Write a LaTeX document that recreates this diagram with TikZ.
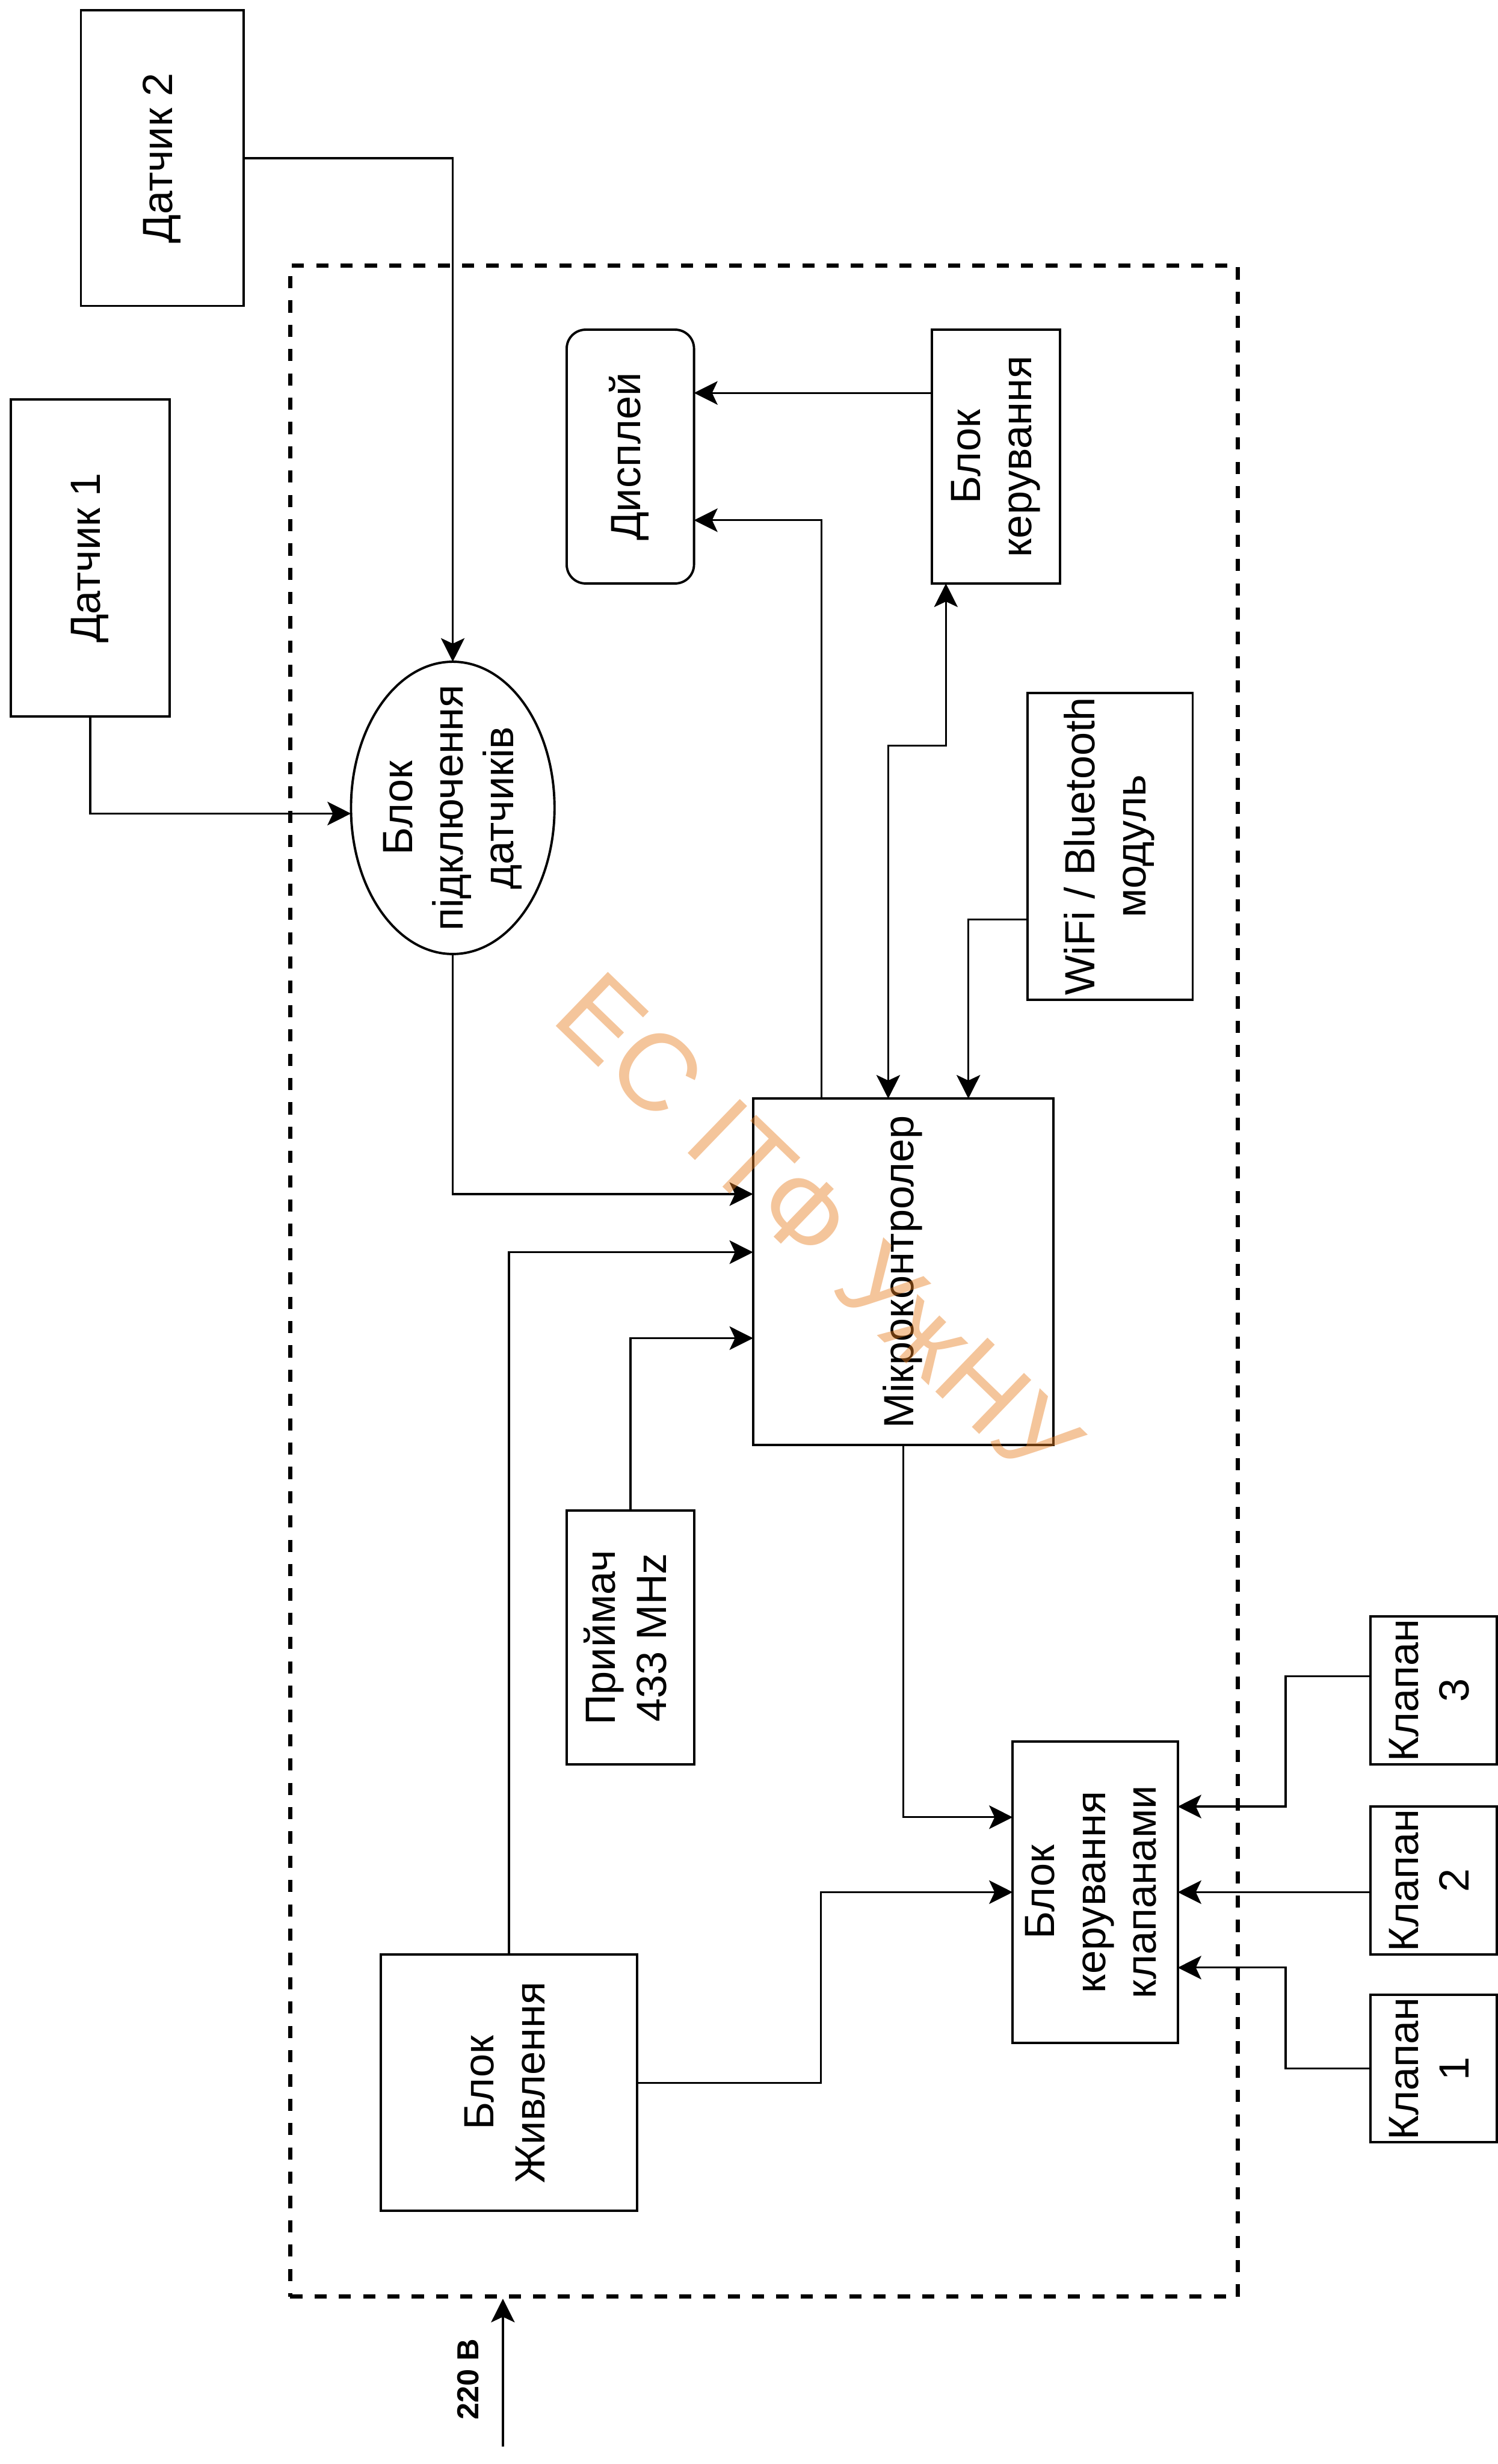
\documentclass[tikz,border=0pt]{standalone}
\usepackage{fontspec}
\setmainfont{Liberation Sans}
\usepackage{graphicx}
\usepackage{tikz}
\usetikzlibrary{positioning,shapes.geometric,arrows.meta,calc}

\definecolor{wmorange}{RGB}{230,126,34}
\newcommand{\vtext}[1]{\rotatebox{90}{\begin{tabular}{@{}c@{}}#1\end{tabular}}}

\begin{document}
\begin{tikzpicture}[x=0.2mm, y=-0.2mm]
\tikzset{
    blk/.style={rectangle, draw, line width=0.85pt, inner sep=0pt, outer sep=0pt, font=\fontsize{15.3}{18.4}\selectfont},
    rblk/.style={blk, rounded corners=2.4mm},
    ovalbox/.style={ellipse, draw, line width=0.85pt, inner sep=0pt, outer sep=0pt},
    txt/.style={inner sep=0pt, font=\fontsize{15.3}{18.4}\selectfont},
    dashbox/.style={rectangle, draw, line width=1.5pt, dash pattern=on 4.4pt off 4.4pt, inner sep=0pt},
    arrow/.style={-{Stealth[length=3mm, width=3mm, inset=0.7mm]}, line width=0.7pt},
    dblarrow/.style={{Stealth[length=3mm, width=3mm, inset=0.7mm]}-{Stealth[length=3mm, width=3mm, inset=0.7mm]}, line width=0.7pt},
    wmark/.style={text=wmorange, text opacity=0.45, font=\fontsize{39.5}{42}\selectfont, rotate=-44, inner sep=0pt}
}
\useasboundingbox (0,0) rectangle (953,1568);

% device border
\node[dashbox, minimum width=12.06cm, minimum height=25.85cm] (frm) at (486.2,815.25) {};

% sensors
\node[blk, minimum width=2.07cm, minimum height=3.76cm] (ds2) at (103.25,100.65) {\vtext{Датчик 2}};
\node[blk, minimum width=2.02cm, minimum height=4.03cm] (ds1) at (57.4,355.1) {\vtext{Датчик 1}};

% blocks inside
\node[rblk, minimum width=1.62cm, minimum height=3.23cm] (dsp) at (401.1,290.55) {\vtext{Дисплей}};
\node[blk, minimum width=1.63cm, minimum height=3.23cm] (bk) at (633.65,290.55) {\vtext{Блок\\керування}};
\node[ovalbox, minimum width=2.59cm, minimum height=3.72cm] (conn) at (288.1,514.1) {};
\node[txt] (connT) at (conn.center) {\vtext{Блок\\підключення\\датчиків}};
\node[blk, minimum width=2.10cm, minimum height=3.90cm] (wf) at (706.4,538.6) {\vtext{WiFi / Bluetooth\\модуль}};
\node[blk, minimum width=3.82cm, minimum height=4.41cm] (mc) at (574.7,809.35) {\vtext{Мікроконтролер}};
\node[blk, minimum width=1.62cm, minimum height=3.23cm] (rx) at (401.15,1042.15) {\vtext{Приймач\\433 MHz}};
\node[blk, minimum width=2.10cm, minimum height=3.84cm] (kv) at (696.9,1204.1) {\vtext{Блок\\керування\\клапанами}};
\node[blk, minimum width=3.26cm, minimum height=3.26cm] (pw) at (323.85,1325.35) {\vtext{Блок\\Живлення}};

% valves
\node[blk, minimum width=1.61cm, minimum height=1.88cm] (kl3) at (912.15,1075.7) {\vtext{Клапан\\3}};
\node[blk, minimum width=1.61cm, minimum height=1.88cm] (kl2) at (912.15,1196.6) {\vtext{Клапан\\2}};
\node[blk, minimum width=1.61cm, minimum height=1.88cm] (kl1) at (912.15,1316.35) {\vtext{Клапан\\1}};

% mains
\coordinate (mains) at (320,1557);
\node[inner sep=0pt, font=\fontsize{11}{13}\selectfont\bfseries] (v220) at (298,1514) {\rotatebox{90}{220 В}};

% links
\draw[arrow] (ds2.east) -| (conn.north);
\draw[arrow] (ds1.south) |- ($(conn.west)+(0,3.6)$);
\draw[arrow] (conn.south) |- ($(mc.west)+(0,-49.5)$);
\draw[arrow] ($(bk.west)+(0,-40.5)$) -- ($(dsp.east)+(0,-40.5)$);
\draw[arrow] ($(mc.north west)+(43.5,0)$) |- ($(dsp.east)+(0,40.5)$);
\draw[dblarrow] ($(mc.north west)+(86,0)$) -- ++(0,-224.6) -| ($(bk.south west)+(9,0)$);
\draw[arrow] ($(wf.west)+(0,46.5)$) -| ($(mc.north west)+(137,0)$);
\draw[arrow] (pw.north) |- ($(mc.west)+(0,-12.5)$);
\draw[arrow] (rx.north) |- ($(mc.west)+(0,42.2)$);
\draw[arrow] (mc.south) |- ($(kv.west)+(0,-47.7)$);
\draw[arrow] (pw.east) -- ++(117,0) |- (kv.west);
\draw[arrow] ($(kl3.west)+(0,-9)$) -- ++(-53.8,0) |- ($(kv.east)+(0,-54.5)$);
\draw[arrow] (kl2.west |- kv.east) -- (kv.east);
\draw[arrow] (kl1.west) -- ++(-53.8,0) |- ($(kv.east)+(0,48)$);
\draw[arrow] (mains) -- (mains |- frm.south);

% watermark
\node[wmark] (wm) at (521,781) {ЕС ІТФ УжНУ};
\end{tikzpicture}
\end{document}
